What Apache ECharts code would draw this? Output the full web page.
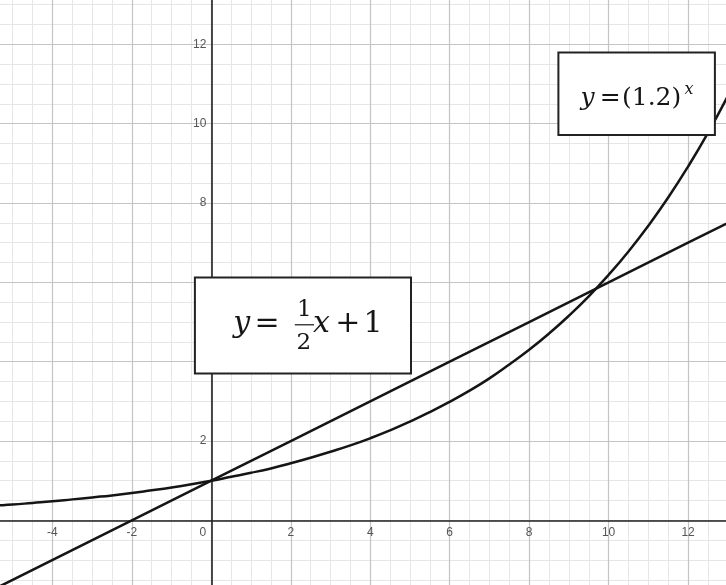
<!DOCTYPE html>
<html>
<head>
<meta charset="utf-8">
<script src="https://cdn.jsdelivr.net/npm/echarts@6/dist/echarts.min.js"></script>
<style>
  html, body { margin: 0; padding: 0; background: #fff; }
  #chart { width: 726px; height: 585px; }
</style>
</head>
<body>
<div id="chart"></div>
<script>
// Straight line y = x/2 + 1
const lineX = [-6, -2, 0, 2, 4, 6, 8, 10, 12, 14];
const lineY = [-2, 0, 1, 2, 3, 4, 5, 6, 7, 8];
// Exponential curve y = 1.2^x
const expX = [-6, -5.5, -5, -4.5, -4, -3.5, -3, -2.5, -2, -1.5, -1, -0.5, 0, 0.5, 1, 1.5, 2, 2.5, 3, 3.5, 4, 4.5, 5, 5.5, 6, 6.5, 7, 7.5, 8, 8.5, 9, 9.5, 10, 10.5, 11, 11.5, 12, 12.5, 13, 13.5, 14];
const expY = [0.33, 0.37, 0.40, 0.44, 0.48, 0.53, 0.58, 0.63, 0.69, 0.76, 0.83, 0.91, 1.00, 1.10, 1.20, 1.31, 1.44, 1.58, 1.73, 1.89, 2.07, 2.27, 2.49, 2.73, 2.99, 3.27, 3.58, 3.93, 4.30, 4.71, 5.16, 5.65, 6.19, 6.78, 7.43, 8.14, 8.92, 9.77, 10.70, 11.72, 12.84];
// Visible axis ranges, major and minor grid steps
const xRange = [-5.394, 13.030];
const yRange = [-1.704, 13.194];
const majorStep = 2;
const minorStep = 0.5;
// y tick labels hidden behind the equation box in the picture
const hiddenYLabels = [0, 4, 6];

const chart = echarts.init(document.getElementById('chart'));

const labelFont = {
  color: '#555',
  fontSize: 12,
  fontFamily: 'Liberation Sans, Arial, sans-serif'
};
const serif = '"DejaVu Serif", serif';
const ink = '#151515';

function isMajor(v) {
  const r = v / majorStep;
  return Math.abs(r - Math.round(r)) < 1e-6;
}

function txt(text, x, y, size, italic, align) {
  return {
    type: 'text', z: 110,
    style: {
      text: text, x: x, y: y,
      font: (italic ? 'italic ' : '') + size + 'px ' + serif,
      fill: ink,
      align: align || 'left',
      verticalAlign: 'middle'
    }
  };
}

function majorAxis(range, splitNumber, isX, offset) {
  return {
    type: 'value', min: range[0], max: range[1],
    minInterval: majorStep, maxInterval: majorStep, splitNumber: splitNumber,
    position: isX ? 'bottom' : 'left',
    offset: offset,
    z: 2,
    axisLine: { onZero: false, lineStyle: { color: '#222', width: 1.6 } },
    axisTick: { show: false },
    splitLine: { show: true, lineStyle: { color: '#c4c4c4', width: 1.2 } },
    axisLabel: Object.assign({}, labelFont, {
      show: true,
      margin: isX ? 6 : 5,
      formatter: isX
        ? function (v) { return !isMajor(v) ? '' : (v === 0 ? '{z|0}' : String(v)); }
        : function (v) {
            if (!isMajor(v)) return '';
            const r = Math.round(v);
            return hiddenYLabels.indexOf(r) >= 0 ? '' : String(r);
          },
      rich: { z: Object.assign({}, labelFont, { padding: [0, 17, 0, 0] }) }
    })
  };
}

function minorAxis(range, splitNumber) {
  return {
    type: 'value', min: range[0], max: range[1],
    minInterval: minorStep, maxInterval: minorStep, splitNumber: splitNumber,
    z: 1,
    axisLine: { show: false, onZero: false },
    axisTick: { show: false },
    axisLabel: { show: false },
    splitLine: { show: true, lineStyle: { color: '#e6e6e6', width: 1 } }
  };
}

chart.setOption({
  animation: false,
  backgroundColor: '#fff',
  grid: {
    left: -3, top: -3, width: 732, height: 591,
    outerBoundsMode: 'none', containLabel: false
  },
  xAxis: [majorAxis(xRange, 9, true, -67.6), minorAxis(xRange, 37)],
  yAxis: [majorAxis(yRange, 7, false, -214.3), minorAxis(yRange, 30)],
  series: [
    {
      type: 'line', symbol: 'none', clip: true, z: 5,
      xAxisIndex: 0, yAxisIndex: 0,
      data: lineX.map((x, i) => [x, lineY[i]]),
      lineStyle: { color: ink, width: 2.5 }
    },
    {
      type: 'line', symbol: 'none', smooth: true, clip: true, z: 5,
      xAxisIndex: 0, yAxisIndex: 0,
      data: expX.map((x, i) => [x, expY[i]]),
      lineStyle: { color: ink, width: 2.5 }
    }
  ],
  graphic: [
    { type: 'rect', z: 100, shape: { x: 558.4, y: 52.4, width: 156.5, height: 82.7 },
      style: { fill: '#fff', stroke: '#222', lineWidth: 2 } },
    txt('y', 580.6, 98.8, 25, true),
    txt('=', 599.8, 98.8, 25, false),
    txt('(1.2)', 622, 98.8, 25, false),
    txt('x', 684.6, 89.8, 16, true),

    { type: 'rect', z: 100, shape: { x: 194.9, y: 277.6, width: 216.1, height: 95.8 },
      style: { fill: '#fff', stroke: '#222', lineWidth: 2 } },
    txt('y', 233.2, 323.8, 30, true),
    txt('=', 254.4, 323.8, 30, false),
    txt('1', 304.4, 310.2, 23, false, 'center'),
    { type: 'line', z: 110, shape: { x1: 294.8, y1: 324.8, x2: 314, y2: 324.8 },
      style: { stroke: ink, lineWidth: 1.2 } },
    txt('2', 303.9, 342.9, 23, false, 'center'),
    txt('x', 313, 323.8, 30, true),
    txt('+', 335.2, 323.8, 30, false),
    txt('1', 363.5, 323.8, 30, false)
  ]
});
</script>
</body>
</html>
